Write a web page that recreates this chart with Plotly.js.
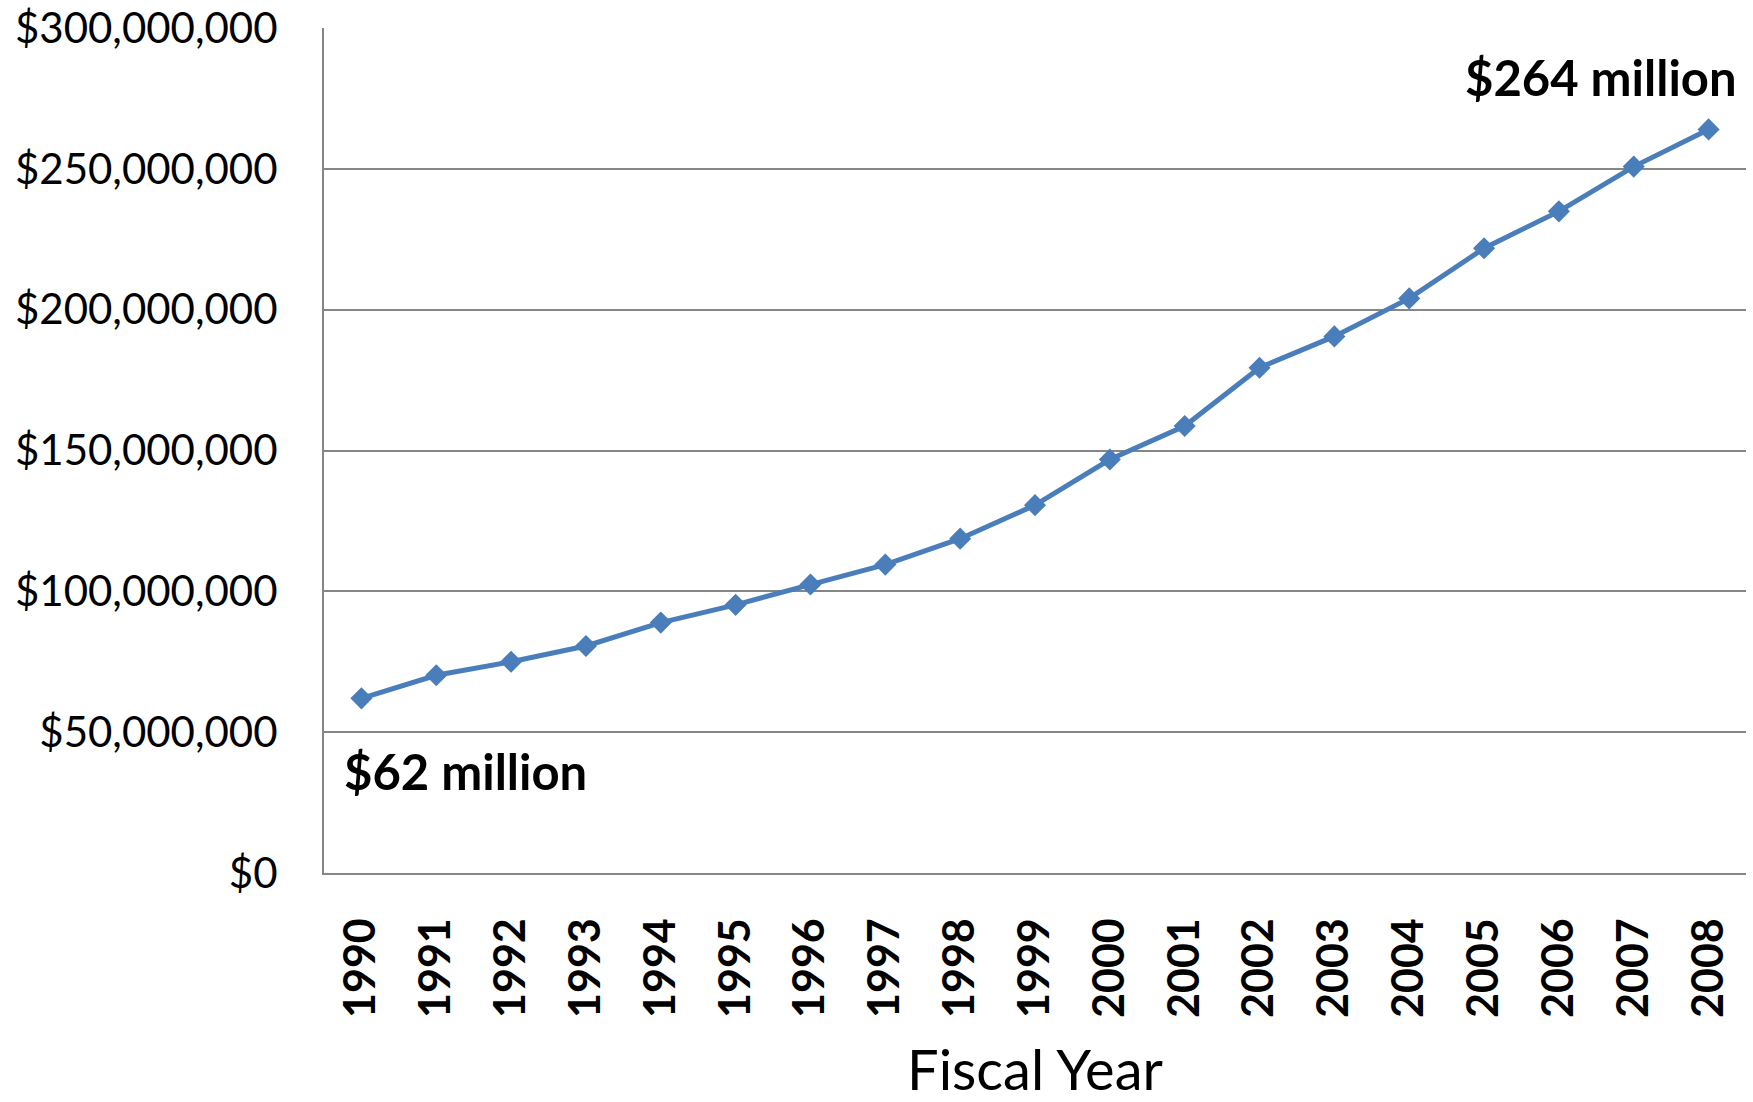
<!DOCTYPE html>
<html>
<head>
<meta charset="utf-8">
<script src="https://cdn.plot.ly/plotly-3.0.1.min.js"></script>
<style>html,body{margin:0;padding:0;background:#fff;}#chart{width:1753px;height:1102px;}</style>
</head>
<body>
<div id="chart"></div>
<script>
const years = ["1990","1991","1992","1993","1994","1995","1996","1997","1998","1999","2000","2001","2002","2003","2004","2005","2006","2007","2008"];
const funding = [62000000, 70200000, 75000000, 80600000, 88900000, 95200000, 102400000, 109500000, 118700000, 130600000, 146800000, 158700000, 179400000, 190500000, 204000000, 221800000, 234900000, 250800000, 264000000];
const yTicks = [0, 50000000, 100000000, 150000000, 200000000, 250000000, 300000000];
const yTickLabels = ["$0", "$50,000,000", "$100,000,000", "$150,000,000", "$200,000,000", "$250,000,000", "$300,000,000"];
const startLabel = "$62 million";
const endLabel = "$264 million";

const trace = {
  x: years,
  y: funding,
  type: "scatter",
  mode: "lines+markers",
  line: {color: "#4a7ebb", width: 5},
  marker: {symbol: "diamond", size: 17, color: "#4a7ebb"},
  hoverinfo: "x+y"
};

const layout = {
  width: 1753,
  height: 1102,
  margin: {l: 324, r: 7, t: 28, b: 229},
  paper_bgcolor: "#ffffff",
  plot_bgcolor: "#ffffff",
  showlegend: false,
  font: {family: "Lato, 'Open Sans', sans-serif", color: "#000000"},
  xaxis: {
    type: "category",
    range: [-0.5, 18.5],
    tickangle: -90,
    tickfont: {family: "Lato", size: 43, color: "#000000", weight: "bold"},
    ticklabelstandoff: 26,
    showgrid: false,
    showline: true,
    linecolor: "#868686",
    linewidth: 2,
    ticks: "",
    zeroline: false,
    title: {text: "Fiscal Year", font: {family: "Lato", size: 56, color: "#000000"}, standoff: 44}
  },
  yaxis: {
    range: [0, 300000000],
    tickmode: "array",
    tickvals: yTicks,
    ticktext: yTickLabels,
    tickfont: {family: "Lato", size: 42, color: "#000000"},
    ticklabelstandoff: 36,
    showgrid: true,
    gridcolor: "#868686",
    gridwidth: 2,
    showline: true,
    linecolor: "#868686",
    linewidth: 2,
    zeroline: false,
    ticks: ""
  },
  annotations: [
    {xref: "paper", yref: "paper", x: 0.995, y: 0.942, xanchor: "right", yanchor: "middle",
     text: "<b>" + endLabel + "</b>", showarrow: false, font: {family: "Lato", size: 49, color: "#000000"}},
    {xref: "paper", yref: "paper", x: 0.0125, y: 0.121, xanchor: "left", yanchor: "middle",
     text: "<b>" + startLabel + "</b>", showarrow: false, font: {family: "Lato", size: 49, color: "#000000"}}
  ]
};

Plotly.newPlot("chart", [trace], layout, {displayModeBar: false, staticPlot: true});
</script>
</body>
</html>
